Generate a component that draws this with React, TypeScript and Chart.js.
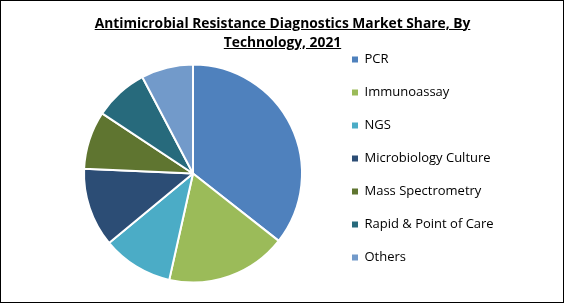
import React, { useEffect, useRef } from "react";
import { Chart, registerables } from "chart.js";

Chart.register(...registerables);

const categories = [
  "PCR",
  "Immunoassay",
  "NGS",
  "Microbiology Culture",
  "Mass Spectrometry",
  "Rapid & Point of Care",
  "Others",
];
const shares = [35.6, 17.9, 10.5, 11.7, 8.6, 8.0, 7.7];
const sliceColors = ["#4F81BD", "#9BBB59", "#4BACC6", "#2C4D75", "#5F7530", "#276A7C", "#729ACA"];
const titleLines = ["Antimicrobial Resistance Diagnostics Market Share, By", "Technology, 2021"];

const LEGEND_FAMILY = "'Open Sans'";
const LEGEND_SIZE = 13;

export default function App() {
  const ref = useRef<HTMLCanvasElement>(null);

  useEffect(() => {
    const canvas = ref.current;
    if (!canvas) return;
    const ctx = canvas.getContext("2d")!;
    ctx.font = `${LEGEND_SIZE}px ${LEGEND_FAMILY}`;
    const maxText = Math.max(...categories.map((c) => ctx.measureText(c).width));
    const boxW = 6;
    const itemPad = 20;
    const legendLeft = 332;
    const legendWidth = itemPad + boxW + LEGEND_SIZE / 2 + maxText + 10;
    const padRight = 565 - legendLeft - legendWidth;

    const baseGen = (Chart.overrides as any).pie.plugins.legend.labels.generateLabels;

    const chart = new Chart(canvas, {
      type: "pie",
      data: {
        labels: categories,
        datasets: [
          {
            data: shares,
            backgroundColor: sliceColors,
            borderColor: "#ffffff",
            borderWidth: 2,
            radius: 109,
          } as any,
        ],
      },
      options: {
        responsive: false,
        animation: false,
        layout: { padding: { top: 33, left: 54, right: padRight, bottom: 0 } },
        plugins: {
          legend: {
            position: "right",
            align: "start",
            labels: {
              boxWidth: 6,
              boxHeight: 6,
              padding: itemPad,
              color: "#000000",
              font: { family: LEGEND_FAMILY, size: LEGEND_SIZE },
              generateLabels: (c: any) =>
                baseGen(c).map((l: any) => ({ ...l, lineWidth: 0 })),
            },
          },
          tooltip: { enabled: false },
          title: { display: false },
        },
      },
    });
    return () => chart.destroy();
  }, []);

  return (
    <div
      style={{
        position: "absolute",
        left: 0,
        top: 0,
        width: 565,
        height: 304,
        overflow: "hidden",
        background: "#ffffff",
      }}
    >
      <canvas ref={ref} width={565} height={314} style={{ position: "absolute", left: 0, top: 0 }} />
      <div
        style={{
          position: "absolute",
          left: 0,
          top: 12.5,
          width: 565,
          textAlign: "center",
          fontFamily: "'Open Sans'",
          fontWeight: 700,
          fontSize: 13.8,
          lineHeight: "19.5px",
          color: "#000",
        }}
      >
        {titleLines.map((t, i) => (
          <div key={i}>
            <span style={{ textDecoration: "underline" }}>{t}</span>
          </div>
        ))}
      </div>
      <div
        style={{
          position: "absolute",
          left: 0,
          top: 0,
          width: 564,
          height: 303,
          boxSizing: "border-box",
          border: "1px solid #000",
          pointerEvents: "none",
        }}
      />
    </div>
  );
}
